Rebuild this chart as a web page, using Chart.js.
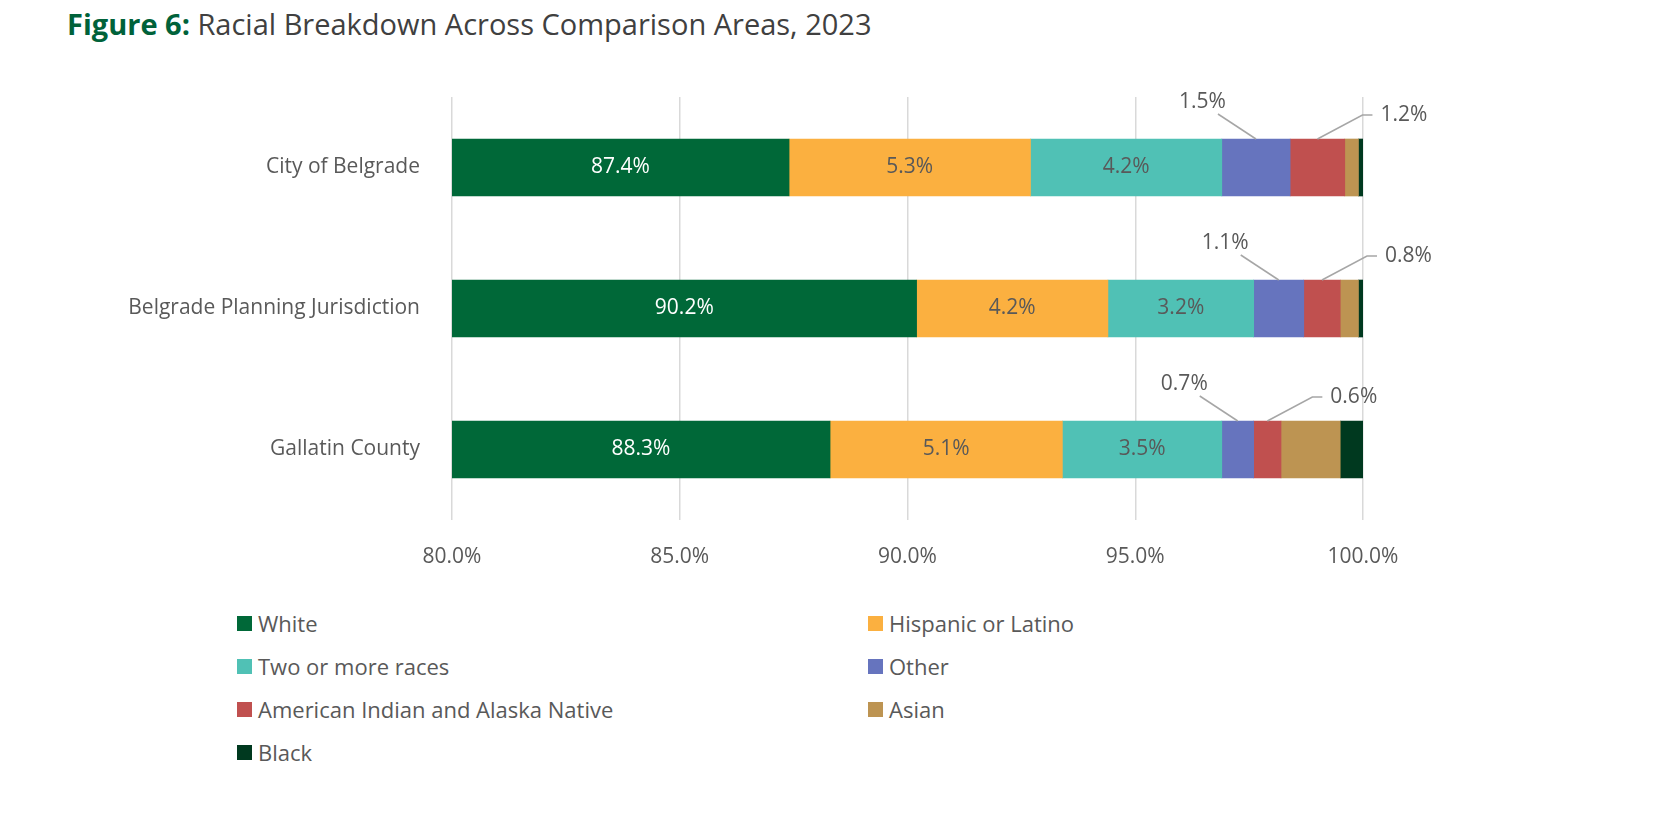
<!DOCTYPE html>
<html><head><meta charset="utf-8">
<script src="https://cdn.jsdelivr.net/npm/chart.js@4"></script>
<style>
body{margin:0;background:#fff;font-family:"Open Sans","Noto Sans",sans-serif;}
#title{position:absolute;left:67px;top:4px;font-size:29px;color:#404040;}
#title b{color:#00623a;}
#wrap{position:absolute;left:0;top:0;width:1670px;height:585px;}
#legend{position:absolute;left:237px;top:608px;width:1300px;font-size:22px;color:#595959;}
.li{position:absolute;display:flex;align-items:center;white-space:nowrap;}
.sw{width:15px;height:15px;margin-right:6px;}
</style></head><body>
<div id="title"><b>Figure 6:</b> Racial Breakdown Across Comparison Areas, 2023</div>
<div id="wrap"><canvas id="c"></canvas></div>
<div id="legend"></div>
<script>
const categories=["City of Belgrade","Belgrade Planning Jurisdiction","Gallatin County"];
const seriesNames=["White","Hispanic or Latino","Two or more races","Other","American Indian and Alaska Native","Asian","Black"];
const white=[87.4,90.2,88.3];
const hispanic=[5.3,4.2,5.1];
const twoPlus=[4.2,3.2,3.5];
const other=[1.5,1.1,0.7];
const aian=[1.2,0.8,0.6];
const asian=[0.3,0.4,1.3];
const black=[0.1,0.1,0.5];
const xTicks=[80,85,90,95,100];
const colors=["#006838","#FBB040","#50C1B5","#6674BE","#C0504F","#BD9452","#00391F"];
const series=[white,hispanic,twoPlus,other,aian,asian,black];

const lg=document.getElementById('legend');
seriesNames.forEach((n,i)=>{const d=document.createElement('div');d.className='li';
d.style.left=(i%2?631:0)+'px';d.style.top=(Math.floor(i/2)*43)+'px';
d.innerHTML='<span class="sw" style="background:'+colors[i]+'"></span>'+n;lg.appendChild(d);});

const labelPlugin={id:'lbl',afterDatasetsDraw(ch){
 const ctx=ch.ctx;ctx.save();ctx.font='21px "Open Sans", sans-serif';ctx.textBaseline='middle';
 const L=ch.chartArea.left;
 for(let d=0;d<3;d++){
  const m=ch.getDatasetMeta(d);
  m.data.forEach((b,i)=>{ctx.fillStyle=d===0?'#fff':'#595959';ctx.textAlign='center';
   const x0=Math.max(b.base,L);
   ctx.fillText(series[d][i].toFixed(1)+'%',(b.x+x0)/2,b.y);});
 }
 ctx.strokeStyle='#a6a6a6';ctx.lineWidth=1.5;ctx.fillStyle='#595959';
 const mo=ch.getDatasetMeta(3),ma=ch.getDatasetMeta(4);
 for(let i=0;i<3;i++){
  const b=mo.data[i];const top=b.y-b.height/2;const cx=(b.x+b.base)/2;
  ctx.beginPath();ctx.moveTo(cx,top);ctx.lineTo(cx-38,top-25);ctx.stroke();
  ctx.textAlign='right';ctx.fillText(other[i].toFixed(1)+'%',cx-30,top-37);
  const a=ma.data[i];const ax=(a.x+a.base)/2;
  ctx.beginPath();ctx.moveTo(ax,top);ctx.lineTo(ax+45,top-24);ctx.lineTo(ax+55,top-24);ctx.stroke();
  ctx.textAlign='left';ctx.fillText(aian[i].toFixed(1)+'%',ax+63,top-24);
 }
 ctx.restore();}};

new Chart(document.getElementById('c'),{type:'bar',
 data:{labels:categories,datasets:series.map((s,i)=>({label:seriesNames[i],data:s,backgroundColor:colors[i],barThickness:57,borderWidth:0}))},
 options:{indexAxis:'y',responsive:true,maintainAspectRatio:false,animation:false,
  layout:{padding:{top:97,right:307,left:0,bottom:0}},
  plugins:{legend:{display:false},tooltip:{enabled:false}},
  scales:{
   x:{stacked:true,min:80,max:100,afterFit:s=>{s.height=65;},
      afterBuildTicks:s=>{s.ticks=xTicks.map(v=>({value:v}));},
      grid:{color:'#d9d9d9',lineWidth:1.5,drawTicks:false},border:{display:false},
      ticks:{padding:24,color:'#595959',font:{size:21,family:'"Open Sans", sans-serif'},callback:v=>v.toFixed(1)+'%'}},
   y:{stacked:true,afterFit:s=>{s.width=452;},grid:{display:false},border:{display:false},
      ticks:{padding:24,color:'#595959',font:{size:21,family:'"Open Sans", sans-serif'}}}
  }},
 plugins:[labelPlugin]});
</script></body></html>
